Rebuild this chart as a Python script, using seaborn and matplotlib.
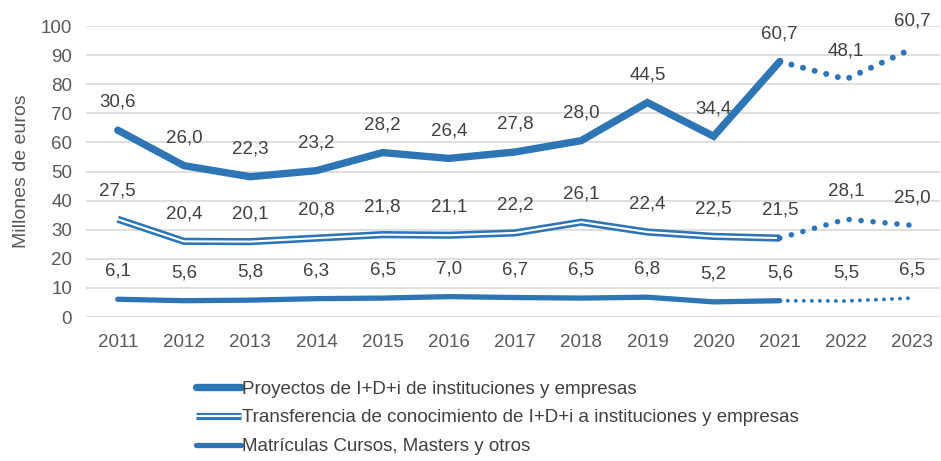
import numpy as np
import matplotlib
matplotlib.use("Agg")
import matplotlib.pyplot as plt
import matplotlib.patheffects as pe
from matplotlib.lines import Line2D
import seaborn as sns

#################################################
#   DATA    -------------------------------------
#################################################
years = [2011, 2012, 2013, 2014, 2015, 2016, 2017, 2018, 2019, 2020, 2021, 2022, 2023]
matriculas = [6.1, 5.6, 5.8, 6.3, 6.5, 7.0, 6.7, 6.5, 6.8, 5.2, 5.6, 5.5, 6.5]
transferencia = [27.5, 20.4, 20.1, 20.8, 21.8, 21.1, 22.2, 26.1, 22.4, 22.5, 21.5, 28.1, 25.0]
proyectos = [30.6, 26.0, 22.3, 23.2, 28.2, 26.4, 27.8, 28.0, 44.5, 34.4, 60.7, 48.1, 60.7]
legend_labels = [
    "Proyectos de I+D+i de instituciones y empresas",
    "Transferencia de conocimiento de I+D+i a instituciones y empresas",
    "Matrículas Cursos, Masters y otros",
]
n_real = 11  # 2011-2021 real, 2022-2023 forecast (dotted)

#################################################
#   STYLE    ------------------------------------
#################################################
sns.set_theme(style="white")
plt.rcParams['font.family'] = ['Liberation Sans', 'DejaVu Sans']
blue = '#2E75B6'
grey_txt = '#595959'

# stacked lines
yrs = np.array(years)
bottom = np.array(matriculas)
middle = bottom + np.array(transferencia)
top = middle + np.array(proyectos)

fig = plt.figure(figsize=(9.41, 4.61), dpi=100)
ax = fig.add_axes([86 / 941, 1 - 317 / 461, (940 - 86) / 941, (317 - 26) / 461])

double = [pe.Stroke(linewidth=5.2, foreground=blue), pe.Normal()]

# top line
sns.lineplot(x=yrs[:n_real], y=top[:n_real], ax=ax, color=blue, lw=5.3,
             solid_capstyle='round', solid_joinstyle='miter')
sns.lineplot(x=yrs[n_real - 1:], y=top[n_real - 1:], ax=ax, color=blue, lw=4.3,
             linestyle=(0, (0.01, 2.0)), dash_capstyle='round')

# middle double line
sns.lineplot(x=yrs[:n_real], y=middle[:n_real], ax=ax, color='white', lw=1.5,
             solid_capstyle='butt', path_effects=double)
sns.lineplot(x=yrs[n_real - 1:], y=middle[n_real - 1:], ax=ax, color=blue, lw=4,
             linestyle=(0, (0.01, 2.15)), dash_capstyle='round')

# bottom line
sns.lineplot(x=yrs[:n_real], y=bottom[:n_real], ax=ax, color=blue, lw=3.8,
             solid_capstyle='round')
sns.lineplot(x=yrs[n_real - 1:], y=bottom[n_real - 1:], ax=ax, color=blue, lw=2.8,
             linestyle=(0, (0.01, 2.05)), dash_capstyle='round')

# value labels
for series, vals in [(top, proyectos), (middle, transferencia), (bottom, matriculas)]:
    for x, y, v in zip(yrs, series, vals):
        ax.annotate(f"{v:.1f}".replace('.', ','), (x, y), xytext=(0, 20),
                    textcoords='offset points', ha='center', va='center',
                    fontsize=13.5, color='#404040')

ax.set_xlim(2010.52, 2023.42)
ax.set_ylim(0, 100)
ax.set_yticks(range(0, 101, 10))
ax.set_xticks(years)
ax.yaxis.grid(True, color='#D9D9D9', lw=1.2)
ax.set_axisbelow(True)
for s in ax.spines.values():
    s.set_visible(False)
ax.tick_params(axis='both', length=0, labelsize=13.5, labelcolor=grey_txt)
ax.tick_params(axis='x', pad=12)
ax.tick_params(axis='y', pad=10)
ax.set_ylabel("Millones de euros", fontsize=14, color=grey_txt, labelpad=8)
ax.set_xlabel("")

# legend
h1 = Line2D([], [], color=blue, lw=5.3, solid_capstyle='round')
h2 = Line2D([], [], color='white', lw=1.5, solid_capstyle='butt', path_effects=double)
h3 = Line2D([], [], color=blue, lw=3.8, solid_capstyle='round')
fig.legend([h1, h2, h3], legend_labels,
           loc='upper left', bbox_to_anchor=(188 / 941, 1 - 373 / 461), frameon=False,
           fontsize=13.5, labelcolor='#404040', handlelength=2.4, handletextpad=0.1,
           labelspacing=0.62, borderaxespad=0)

fig.savefig("out.png", dpi=100)
